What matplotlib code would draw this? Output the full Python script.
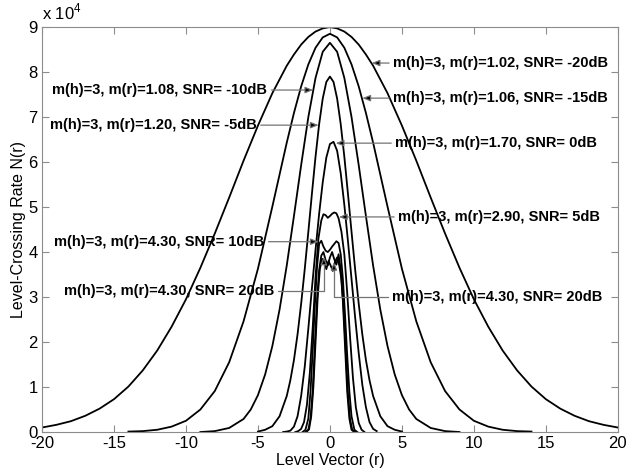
import matplotlib.pyplot as plt

plt.rcParams['font.family'] = ['Liberation Sans', 'DejaVu Sans']
plt.rcParams['mathtext.fontset'] = 'custom'
plt.rcParams['mathtext.rm'] = 'Liberation Sans'
plt.rcParams['axes.unicode_minus'] = False

# Level-crossing rate curves, values in units of 1e4
# SNR = -20 dB, m(r) = 1.02
r1 = [-20, -19, -18, -17, -16, -15, -14, -13, -12, -11, -10, -9, -8, -7, -6, -5, -4,
      -3, -2.5, -2, -1.5, -1, -0.5, 0, 0.5, 1, 1.5, 2, 2.5, 3, 4, 5, 6, 7, 8, 9, 10,
      11, 12, 13, 14, 15, 16, 17, 18, 19, 20]
n1 = [0.10, 0.16, 0.24, 0.36, 0.52, 0.73, 1.01, 1.37, 1.81, 2.34, 2.95, 3.65, 4.41,
      5.21, 6.03, 6.81, 7.53, 8.14, 8.39, 8.61, 8.78, 8.90, 8.97, 9.00, 8.97, 8.90,
      8.78, 8.61, 8.39, 8.14, 7.53, 6.81, 6.03, 5.21, 4.41, 3.65, 2.95, 2.34, 1.81,
      1.37, 1.01, 0.73, 0.52, 0.36, 0.24, 0.16, 0.10]

# SNR = -15 dB, m(r) = 1.06
r2 = [-14, -13, -12, -11, -10, -9, -8, -7, -6, -5, -4, -3, -2.5, -2, -1.5, -1, -0.5, 0,
      0.5, 1, 1.5, 2, 2.5, 3, 4, 5, 6, 7, 8, 9, 10, 11, 12, 13, 14]
n2 = [0.01, 0.02, 0.05, 0.12, 0.25, 0.50, 0.91, 1.55, 2.46, 3.63, 5.01, 6.43, 7.09,
      7.68, 8.17, 8.54, 8.77, 8.85, 8.77, 8.54, 8.17, 7.68, 7.09, 6.43, 5.01, 3.63,
      2.46, 1.55, 0.91, 0.50, 0.25, 0.12, 0.05, 0.02, 0.01]

# SNR = -10 dB, m(r) = 1.08
r3 = [-9, -8, -7, -6, -5.5, -5, -4.5, -4, -3.5, -3, -2.5, -2, -1.5, -1, -0.5, 0,
      0.5, 1, 1.5, 2, 2.5, 3, 3.5, 4, 4.5, 5, 5.5, 6, 7, 8, 9]
n3 = [0.0, 0.02, 0.09, 0.29, 0.50, 0.82, 1.28, 1.91, 2.72, 3.70, 4.80, 5.93, 7.00,
      7.87, 8.45, 8.65, 8.45, 7.87, 7.00, 5.93, 4.80, 3.70, 2.72, 1.91, 1.28, 0.82,
      0.50, 0.29, 0.09, 0.02, 0.0]

# SNR = -5 dB, m(r) = 1.20
r4 = [-5, -4.5, -4, -3.5, -3, -2.75, -2.5, -2.25, -2, -1.75, -1.5, -1.25, -1, -0.75,
      -0.5, -0.25, 0, 0.25, 0.5, 0.75, 1, 1.25, 1.5, 1.75, 2, 2.25, 2.5, 2.75, 3,
      3.5, 4, 4.5, 5]
n4 = [0.01, 0.05, 0.13, 0.35, 0.80, 1.15, 1.60, 2.17, 2.85, 3.62, 4.45, 5.30, 6.12,
      6.84, 7.41, 7.78, 7.90, 7.78, 7.41, 6.84, 6.12, 5.30, 4.45, 3.62, 2.85, 2.17,
      1.60, 1.15, 0.80, 0.35, 0.13, 0.05, 0.01]

# SNR = 0 dB, m(r) = 1.70
r5 = [-3.25, -3, -2.75, -2.5, -2.25, -2, -1.75, -1.5, -1.25, -1, -0.75, -0.5, -0.25,
      0, 0.25, 0.5, 0.75, 1, 1.25, 1.5, 1.75, 2, 2.25, 2.5, 2.75, 3, 3.25]
n5 = [0.0, 0.01, 0.03, 0.12, 0.35, 0.80, 1.45, 2.30, 3.20, 4.05, 4.85, 5.55, 6.10,
      6.40, 6.45, 6.25, 5.75, 5.05, 4.25, 3.40, 2.55, 1.75, 1.05, 0.55, 0.22, 0.07, 0.02]

# SNR = 5 dB, m(r) = 2.90
r6 = [-2.4, -2.2, -2.0, -1.8, -1.6, -1.4, -1.2, -1.0, -0.8, -0.6, -0.45, -0.3, -0.15,
      0.0, 0.15, 0.3, 0.45, 0.6, 0.8, 1.0, 1.2, 1.4, 1.6, 1.8, 2.0, 2.2, 2.4]
n6 = [0.0, 0.02, 0.07, 0.22, 0.60, 1.30, 2.30, 3.45, 4.30, 4.70, 4.84, 4.82, 4.76,
      4.80, 4.85, 4.88, 4.86, 4.75, 4.45, 3.95, 3.10, 2.10, 1.20, 0.55, 0.20, 0.05, 0.0]

# SNR = 10 dB, m(r) = 4.30
r7 = [-1.9, -1.7, -1.5, -1.35, -1.2, -1.05, -0.9, -0.75, -0.6, -0.45, -0.3, -0.15, 0.0,
      0.15, 0.3, 0.45, 0.6, 0.75, 0.9, 1.05, 1.2, 1.35, 1.5, 1.7, 1.9]
n7 = [0.0, 0.05, 0.30, 0.90, 1.80, 2.80, 3.65, 4.18, 4.25, 4.12, 4.03, 4.00, 4.05,
      4.12, 4.18, 4.24, 4.20, 3.95, 3.40, 2.60, 1.70, 0.90, 0.35, 0.05, 0.0]

# SNR = 20 dB, m(r) = 4.30 (two runs)
r8 = [-1.7, -1.5, -1.35, -1.2, -1.05, -0.9, -0.75, -0.6, -0.45, -0.3, -0.15, 0.0, 0.15,
      0.3, 0.45, 0.6, 0.75, 0.9, 1.05, 1.2, 1.35, 1.5, 1.7]
n8 = [0.0, 0.05, 0.30, 0.90, 1.90, 2.90, 3.60, 3.92, 4.00, 3.82, 3.70, 3.88, 4.00,
      3.84, 3.72, 3.95, 3.60, 2.90, 1.90, 0.90, 0.30, 0.05, 0.0]
r9 = [-1.65, -1.45, -1.3, -1.15, -1.0, -0.85, -0.7, -0.55, -0.4, -0.25, -0.1, 0.05, 0.2,
      0.35, 0.5, 0.65, 0.8, 0.95, 1.1, 1.25, 1.4, 1.55, 1.75]
n9 = [0.0, 0.06, 0.35, 1.00, 2.00, 3.00, 3.62, 3.85, 3.78, 3.62, 3.80, 3.70, 3.58,
      3.78, 3.88, 3.70, 3.40, 2.75, 1.80, 0.85, 0.28, 0.05, 0.0]

curves = [(r1, n1), (r2, n2), (r3, n3), (r4, n4), (r5, n5),
          (r6, n6), (r7, n7), (r8, n8), (r9, n9)]

fig = plt.figure(figsize=(6.3, 4.72), dpi=100)
ax = fig.add_axes([0.0667, 0.0847, 0.914, 0.858])

for r, n in curves:
    ax.plot(r, n, color='black', lw=1.3)

ax.set_xlim(-20, 20)
ax.set_ylim(0, 9)
ax.set_xticks(range(-20, 21, 5))
ax.set_yticks(range(0, 10))
ax.tick_params(direction='in', length=5, top=True, right=True, labelsize=12,
               color='0.55', pad=3)
for s in ax.spines.values():
    s.set_color('0.55')
    s.set_linewidth(0.8)

ax.set_xlabel('Level Vector (r)', fontsize=11.5, labelpad=1)
ax.set_ylabel('Level-Crossing Rate N(r)', fontsize=11.5, labelpad=2)
ax.text(0.0, 1.012, r'x 10$^{4}$', transform=ax.transAxes, fontsize=12,
        ha='left', va='bottom')

# annotations: text, arrow tip, text position
arrow = dict(arrowstyle='-|>,head_length=0.45,head_width=0.18', ec='0.45', fc='black',
             lw=0.9, shrinkA=1, shrinkB=0)
bent = dict(arrow, connectionstyle='angle,angleA=0,angleB=90,rad=0')
tkw = dict(fontsize=10.5, fontweight='bold', va='center')

ax.annotate('m(h)=3, m(r)=1.02, SNR= -20dB', xy=(2.9, 8.2), xytext=(4.4, 8.2),
            ha='left', arrowprops=arrow, **tkw)
ax.annotate('m(h)=3, m(r)=1.06, SNR= -15dB', xy=(2.25, 7.42), xytext=(4.4, 7.42),
            ha='left', arrowprops=arrow, **tkw)
ax.annotate('m(h)=3, m(r)=1.08, SNR= -10dB', xy=(-1.16, 7.6), xytext=(-4.35, 7.6),
            ha='right', arrowprops=arrow, **tkw)
ax.annotate('m(h)=3, m(r)=1.20, SNR= -5dB', xy=(-0.78, 6.82), xytext=(-5.1, 6.82),
            ha='right', arrowprops=arrow, **tkw)
ax.annotate('m(h)=3, m(r)=1.70, SNR= 0dB', xy=(0.4, 6.42), xytext=(4.55, 6.42),
            ha='left', arrowprops=arrow, **tkw)
ax.annotate('m(h)=3, m(r)=2.90, SNR= 5dB', xy=(0.62, 4.78), xytext=(4.75, 4.78),
            ha='left', arrowprops=arrow, **tkw)
ax.annotate('m(h)=3, m(r)=4.30, SNR= 10dB', xy=(-0.78, 4.23), xytext=(-4.55, 4.23),
            ha='right', arrowprops=arrow, **tkw)
ax.annotate('m(h)=3, m(r)=4.30, SNR= 20dB', xy=(-0.42, 3.9), xytext=(-3.9, 3.14),
            ha='right', arrowprops=bent, **tkw)
ax.annotate('m(h)=3, m(r)=4.30, SNR= 20dB', xy=(0.28, 3.78), xytext=(4.3, 3.0),
            ha='left', arrowprops=bent, **tkw)

plt.savefig('out.png', dpi=100)
